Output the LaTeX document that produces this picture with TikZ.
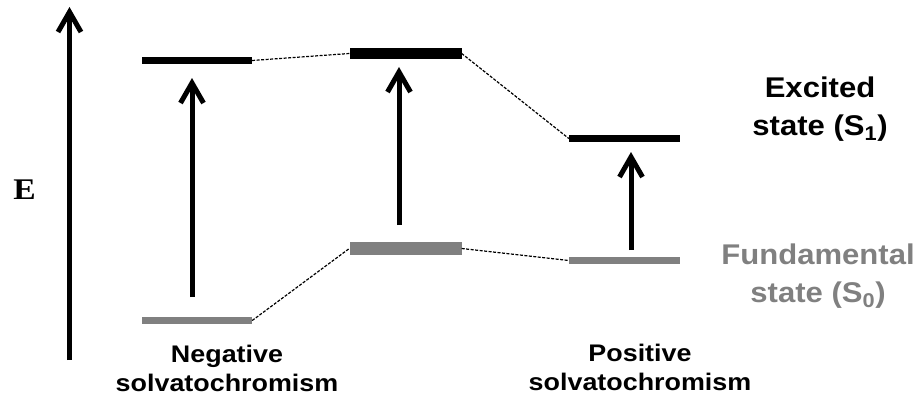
\documentclass[tikz,border=0pt]{standalone}
\usepackage{fontspec}
\setmainfont{Liberation Sans}
\newfontfamily\timesfont{Liberation Serif}
\usetikzlibrary{arrows.meta,positioning}

\definecolor{groundgray}{gray}{0.5}

\tikzset{exbar/.style={
			  rectangle,
			  inner sep       = 0pt,
			  fill            = black,
			  minimum width   = 110pt,
			  minimum height  = 7pt
			}}
\tikzset{gsbar/.style={
			  exbar,
			  fill            = groundgray
			}}
\tikzset{jump/.style={
			  line width      = 5pt,
			  -{Straight Barb[length=20pt,width=23pt]}
			}}
\tikzset{link/.style={
			  line width      = 1.2pt,
			  dash pattern    = on 3pt off 1.5pt
			}}
\tikzset{caption/.style={
			  font            = \bfseries\fontsize{24}{28.5}\selectfont,
			  align           = center,
			  xscale          = 1.12
			}}
\tikzset{statelabel/.style={
			  font            = \bfseries\fontsize{28.5}{38}\selectfont,
			  align           = center,
			  xscale          = 1.09
			}}

\begin{document}
\begin{tikzpicture}[x=1pt, y=-1pt]
    \useasboundingbox (0,0) rectangle (923,396);

    % energy levels
    \node (ex1) [exbar]                                          at (197,60.5)    {};
    \node (gs1) [gsbar]                                          at (197,320.5)   {};
    \node (ex2) [exbar, minimum width=112pt, minimum height=11pt] at (405.5,53.5)  {};
    \node (gs2) [gsbar, minimum width=112pt, minimum height=13pt] at (405.5,248.5) {};
    \node (ex3) [exbar, minimum width=111pt]                     at (624.5,138.5) {};
    \node (gs3) [gsbar, minimum width=111pt]                     at (624.5,260.5) {};

    % arrow ends
    \coordinate (axis0) at (69.5,360);
    \coordinate (axis1) at (69.5,7);
    \coordinate (up1a)  at (192,297);
    \coordinate (up1b)  at (192,78);
    \coordinate (up2a)  at (399,225);
    \coordinate (up2b)  at (399,67);
    \coordinate (up3a)  at (631,250);
    \coordinate (up3b)  at (631,152);

    % labels (base = last line)
    \node (E)    [font=\timesfont\bfseries\fontsize{30}{30}\selectfont, xscale=1.12] at (24.5,189.5) {E};
    \node (neg)  [caption, anchor=base]                  at (227,391) {Negative\\solvatochromism};
    \node (pos)  [caption, anchor=base]                  at (640,390) {Positive\\solvatochromism};
    \node (exc)  [statelabel, anchor=base]               at (820,135) {Excited\\state (S\textsubscript{1})};
    \node (fund) [statelabel, anchor=base, text=groundgray] at (818,302) {Fundamental\\state (S\textsubscript{0})};

    \draw [jump] (axis0) -- (axis1);
    \draw [jump] (up1a)  -- (up1b);
    \draw [jump] (up2a)  -- (up2b);
    \draw [jump] (up3a)  -- (up3b);

    \draw [link] (ex1.east) -- (ex2.west);
    \draw [link] (ex2.east) -- (ex3.west);
    \draw [link] (gs1.east) -- (gs2.west);
    \draw [link] (gs2.east) -- (gs3.west);

\end{tikzpicture}
\end{document}
